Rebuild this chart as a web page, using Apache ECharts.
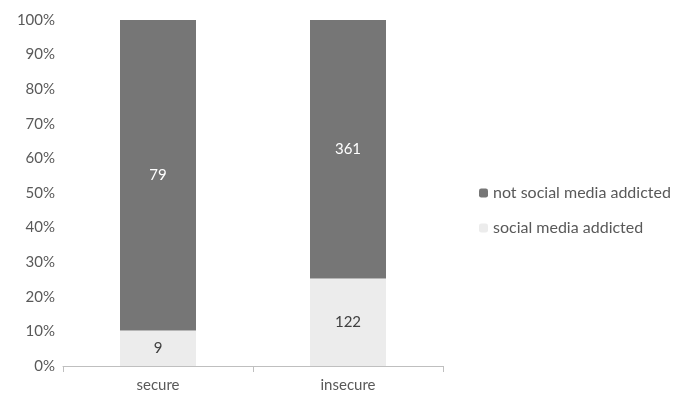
<!DOCTYPE html>
<html><head><meta charset="utf-8">
<script src="https://cdn.jsdelivr.net/npm/echarts@6/dist/echarts.min.js"></script>
<style>html,body{margin:0;padding:0;background:#fff}#c{width:685px;height:410px}</style>
</head><body><div id="c"></div>
<script>
const categories = ['secure', 'insecure'];
const addicted = [9, 122];
const notAddicted = [79, 361];
const yTicks = [0,10,20,30,40,50,60,70,80,90,100];

const totals = addicted.map((v,i)=>v+notAddicted[i]);
const pct = (arr)=>arr.map((v,i)=>({value: v/totals[i]*100, count: v}));
const font = 'Lato';
const chart = echarts.init(document.getElementById('c'));
chart.setOption({
  animation:false,
  textStyle:{fontFamily:font},
  grid:{left:63,right:242,top:20,bottom:44},
  legend:{orient:'vertical',left:474,top:180,itemWidth:9,itemHeight:9,itemGap:19,
    textStyle:{fontFamily:font,fontSize:16,color:'#595959'},
    data:['not social media addicted','social media addicted']},
  xAxis:{type:'category',data:categories,
    axisLine:{lineStyle:{color:'#bfbfbf'}},
    axisTick:{show:true,length:6,lineStyle:{color:'#bfbfbf'}},
    axisLabel:{fontFamily:font,fontSize:15,color:'#595959',margin:12}},
  yAxis:{type:'value',min:0,max:100,interval:10,
    axisLine:{show:false},axisTick:{show:false},splitLine:{show:false},
    axisLabel:{fontFamily:font,fontSize:15,color:'#595959',formatter:v=>yTicks.includes(v)?v+'%':''}},
  series:[
    {name:'social media addicted',type:'bar',stack:'a',barWidth:76,data:pct(addicted),
     itemStyle:{color:'#ececec'},
     label:{show:true,position:'inside',fontFamily:font,fontSize:15,color:'#404040',formatter:p=>p.data.count}},
    {name:'not social media addicted',type:'bar',stack:'a',barWidth:76,data:pct(notAddicted),
     itemStyle:{color:'#767676'},
     label:{show:true,position:'inside',fontFamily:font,fontSize:15,color:'#ffffff',formatter:p=>p.data.count}}
  ]
});
</script></body></html>
